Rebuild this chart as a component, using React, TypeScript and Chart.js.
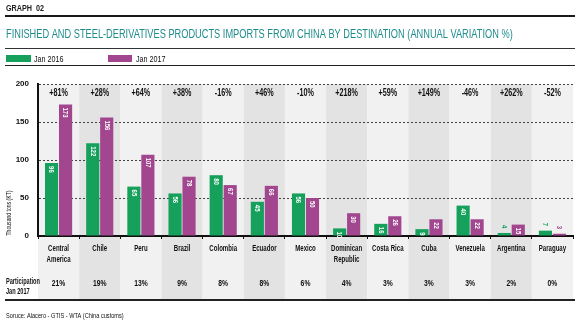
import React, { useEffect, useRef } from "react";
import { Chart, registerables } from "chart.js";

Chart.register(...registerables);

const categories: string[][] = [
  ["Central", "America"], ["Chile"], ["Peru"], ["Brazil"], ["Colombia"], ["Ecuador"], ["Mexico"],
  ["Dominican", "Republic"], ["Costa Rica"], ["Cuba"], ["Venezuela"], ["Argentina"], ["Paraguay"],
];
const jan2016: number[] = [96, 122, 65, 56, 80, 45, 56, 10, 16, 9, 40, 4, 7];
const jan2017: number[] = [173, 156, 107, 78, 67, 66, 50, 30, 26, 22, 22, 15, 3];
const variation: string[] = ["+81%", "+28%", "+64%", "+38%", "-16%", "+46%", "-10%", "+218%", "+59%", "+149%", "-46%", "+262%", "-52%"];
const participation: string[] = ["21%", "19%", "13%", "9%", "8%", "8%", "6%", "4%", "3%", "3%", "3%", "2%", "0%"];
const yTicks: number[] = [0, 50, 100, 150, 200];

const GREEN = "#15a05b";
const PURPLE = "#a1468f";
const TEAL = "#1f8c8c";
const FF = "'Liberation Sans', Arial, sans-serif";

function txt(ctx: any, s: string, x: number, y: number, font: string, color: string, align: string, sx: number, rot = 0) {
  ctx.save();
  ctx.translate(x, y);
  if (rot) ctx.rotate(rot);
  ctx.scale(sx, 1);
  ctx.font = font;
  ctx.fillStyle = color;
  ctx.textAlign = align;
  ctx.fillText(s, 0, 0);
  ctx.restore();
}

const decorPlugin = {
  id: "decor",
  beforeDraw(chart: any) {
    const { ctx, chartArea, scales } = chart;
    const x = scales.x;
    ctx.save();
    ctx.fillStyle = "#ffffff";
    ctx.fillRect(0, 0, chart.width, chart.height);
    const n = categories.length;
    const w = (chartArea.right - chartArea.left) / n;
    for (let i = 0; i < n; i++) {
      const cx = x.getPixelForValue(i);
      ctx.fillStyle = i % 2 === 0 ? "#f1f1f1" : "#e3e3e3";
      ctx.fillRect(cx - w / 2, chartArea.top, w, 299 - chartArea.top);
    }
    ctx.restore();
  },
  afterDraw(chart: any) {
    const { ctx, scales } = chart;
    const x = scales.x;
    ctx.save();
    ctx.textBaseline = "alphabetic";
    // header
    txt(ctx, "GRAPH  02", 6, 11, `bold 8.5px ${FF}`, "#222", "left", 0.85);
    ctx.fillStyle = "#1a1a1a";
    ctx.fillRect(5, 15, 570, 2);
    txt(ctx, "FINISHED AND STEEL-DERIVATIVES PRODUCTS IMPORTS FROM CHINA BY DESTINATION (ANNUAL VARIATION %)", 6, 38, `12px ${FF}`, TEAL, "left", 0.77);
    ctx.fillStyle = "#333";
    ctx.fillRect(5, 48, 570, 1);
    // legend
    ctx.fillStyle = GREEN;
    ctx.fillRect(6, 55, 25, 7);
    ctx.fillStyle = PURPLE;
    ctx.fillRect(108, 55, 24, 7);
    txt(ctx, "Jan 2016", 34, 62, `9px ${FF}`, "#111", "left", 0.8);
    txt(ctx, "Jan 2017", 136, 62, `9px ${FF}`, "#111", "left", 0.8);
    ctx.fillStyle = "#222";
    ctx.fillRect(5, 65, 570, 1);
    // y title
    txt(ctx, "Thousand tons (KT)", 11, 213, `7.5px ${FF}`, "#111", "center", 0.68, -Math.PI / 2);
    // variations
    for (let i = 0; i < variation.length; i++) {
      txt(ctx, variation[i], x.getPixelForValue(i), 96, `bold 10px ${FF}`, "#111", "center", 0.72);
    }
    // category labels
    for (let i = 0; i < categories.length; i++) {
      categories[i].forEach((line, k) => {
        txt(ctx, line, x.getPixelForValue(i), 251 + k * 11, `bold 9.5px ${FF}`, "#111", "center", 0.64);
      });
    }
    // participation
    for (let i = 0; i < participation.length; i++) {
      txt(ctx, participation[i], x.getPixelForValue(i), 286, `bold 9px ${FF}`, "#111", "center", 0.75);
    }
    txt(ctx, "Participation", 6, 284, `bold 8.5px ${FF}`, "#111", "left", 0.66);
    txt(ctx, "Jan 2017", 6, 294, `bold 8.5px ${FF}`, "#111", "left", 0.66);
    ctx.fillStyle = "#222";
    ctx.fillRect(5, 299, 570, 2);
    txt(ctx, "Soruce: Alacero - GTIS - WTA (China customs)", 6, 318, `7.5px ${FF}`, "#111", "left", 0.75);
    // bar values
    ctx.textBaseline = "middle";
    chart.data.datasets.forEach((ds: any, di: number) => {
      const meta = chart.getDatasetMeta(di);
      meta.data.forEach((bar: any, i: number) => {
        const v = ds.data[i];
        const inside = v >= 8;
        txt(ctx, String(v), bar.x, inside ? bar.y + 3 : bar.y - 8, `bold 8px ${FF}`, inside ? "#ffffff" : ds.backgroundColor, "left", 0.75, Math.PI / 2);
      });
    });
    ctx.restore();
  },
};

export default function App() {
  const ref = useRef<HTMLCanvasElement | null>(null);
  useEffect(() => {
    document.body.style.margin = "0";
    const chart = new Chart(ref.current as HTMLCanvasElement, {
      type: "bar",
      data: {
        labels: categories.map((c) => c.join(" ")),
        datasets: [
          { label: "Jan 2016", data: jan2016, backgroundColor: GREEN, barPercentage: 0.94, categoryPercentage: 0.68 },
          { label: "Jan 2017", data: jan2017, backgroundColor: PURPLE, barPercentage: 0.94, categoryPercentage: 0.68 },
        ],
      },
      options: {
        responsive: false,
        animation: false,
        layout: { padding: { top: 84, right: 6, left: 0, bottom: 0 } },
        plugins: { legend: { display: false }, tooltip: { enabled: false } },
        scales: {
          x: {
            grid: { display: true, drawOnChartArea: false, offset: true, tickLength: 3, color: "#111", lineWidth: 1 },
            border: { display: true, color: "#111", width: 2 },
            ticks: { display: false },
            afterFit: (s: any) => { s.height = 89; },
          },
          y: {
            min: 0,
            max: 200,
            afterBuildTicks: (s: any) => { s.ticks = yTicks.map((v) => ({ value: v })); },
            grid: {
              color: (c: any) => (c.tick && c.tick.value === 0 ? "rgba(0,0,0,0)" : "#444"),
              lineWidth: 1,
              drawTicks: false,
            },
            border: { display: true, color: "#111", width: 2, dash: [2, 2] },
            ticks: { color: "#111", font: { family: FF, size: 8, weight: "bold" }, padding: 9 },
            afterFit: (s: any) => { s.width = 38; },
          },
        },
      },
      plugins: [decorPlugin],
    } as any);
    return () => chart.destroy();
  }, []);
  return (
    <div style={{ position: "absolute", left: 0, top: 0, width: 579, height: 325 }}>
      <canvas ref={ref} width={579} height={325} />
    </div>
  );
}
